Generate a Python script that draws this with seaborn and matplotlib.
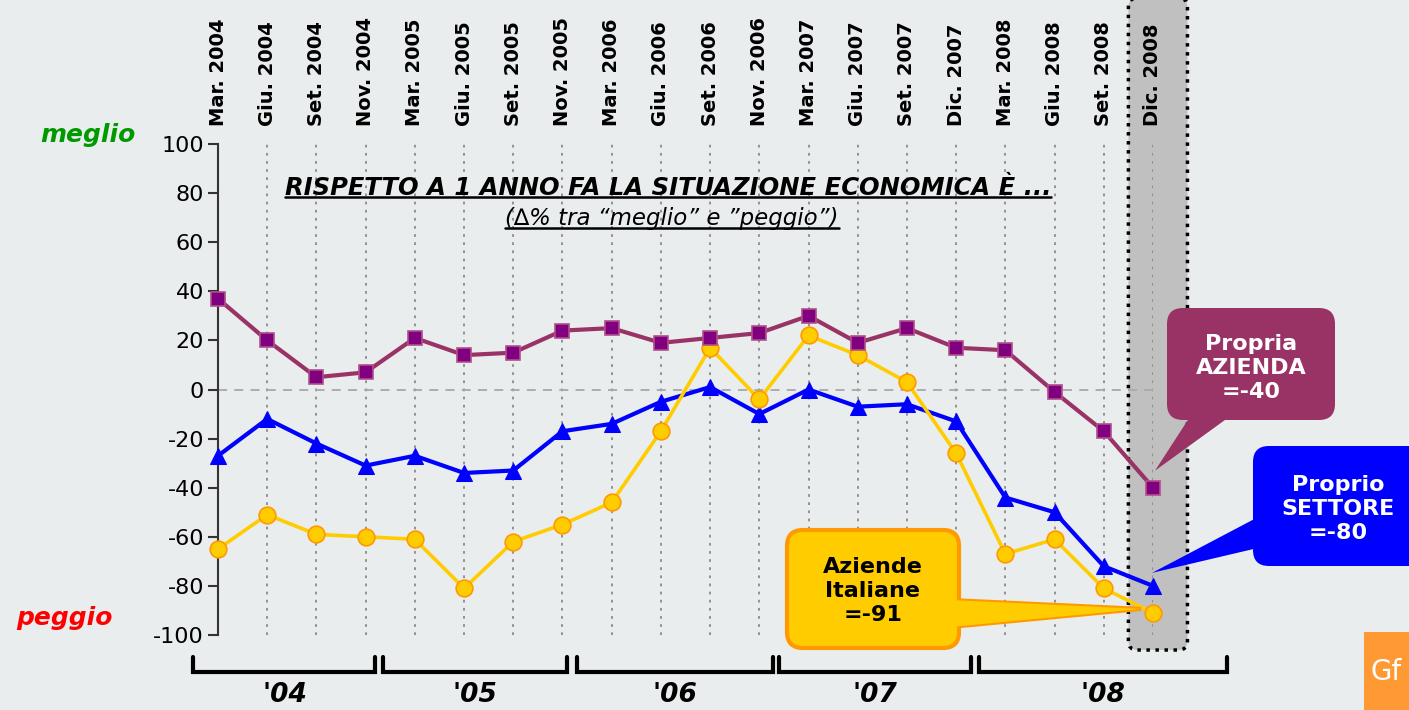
import numpy as np
import pandas as pd
import matplotlib
matplotlib.use('Agg')
import matplotlib.pyplot as plt
import seaborn as sns
from matplotlib.patches import FancyBboxPatch, Polygon, Rectangle
from matplotlib.lines import Line2D
from matplotlib.transforms import IdentityTransform, blended_transform_factory

# ── DATA ─────────────────────────────────────────────────────
periods = ["Mar. 2004", "Giu. 2004", "Set. 2004", "Nov. 2004",
           "Mar. 2005", "Giu. 2005", "Set. 2005", "Nov. 2005",
           "Mar. 2006", "Giu. 2006", "Set. 2006", "Nov. 2006",
           "Mar. 2007", "Giu. 2007", "Set. 2007", "Dic. 2007",
           "Mar. 2008", "Giu. 2008", "Set. 2008", "Dic. 2008"]
propria_azienda = [37, 20, 5, 7, 21, 14, 15, 24, 25, 19,
                   21, 23, 30, 19, 25, 17, 16, -1, -17, -40]
proprio_settore = [-27, -12, -22, -31, -27, -34, -33, -17, -14, -5,
                   1, -10, 0, -7, -6, -13, -44, -50, -72, -80]
aziende_italiane = [-65, -51, -59, -60, -61, -81, -62, -55, -46, -17,
                    17, -4, 22, 14, 3, -26, -67, -61, -81, -91]
years = ["'04", "'05", "'06", "'07", "'08"]
yticks = list(range(-100, 101, 20))

# bracket extents under the axis (in x index units)
year_spans = [(-0.5, 3.2), (3.35, 7.1), (7.3, 11.28), (11.4, 15.3), (15.47, 20.5)]

W, H = 1409, 710
BG = "#E9EDEE"

sns.set_theme(style="white")
plt.rcParams['font.family'] = ['DejaVu Sans']
plt.rcParams['axes.unicode_minus'] = False
plt.rcParams['text.color'] = 'black'

fig = plt.figure(figsize=(W / 100, H / 100), dpi=100, facecolor=BG)
ax = fig.add_axes([218 / W, 1 - 635 / H, (1153 - 218) / W, 491 / H])
ax.set_facecolor("none")

x = np.arange(len(periods))
series = [
    ("Proprio Settore", proprio_settore, dict(color="#0000FF", marker="^", markersize=11,
        markerfacecolor="#0000FF", markeredgecolor="#0000FF", linewidth=3)),
    ("Aziende Italiane", aziende_italiane, dict(color="#FFCC00", marker="o", markersize=12,
        markerfacecolor="#FFCC00", markeredgecolor="#FF9900", markeredgewidth=1.2, linewidth=2.6)),
    ("Propria Azienda", propria_azienda, dict(color="#993366", marker="s", markersize=10,
        markerfacecolor="#800080", markeredgecolor="#B0508A", markeredgewidth=1.2, linewidth=3)),
]
for name, vals, st in series:
    df = pd.DataFrame({"x": x, "y": vals})
    sns.lineplot(data=df, x="x", y="y", ax=ax, clip_on=False, zorder=3, **st)

ax.axhline(0, color="#A8A8A8", ls=(0, (5, 4)), lw=1.3, zorder=1)
ax.set_xlim(0, len(periods) - 1)
ax.set_ylim(-100, 100)
ax.set_yticks(yticks)
ax.set_xticks(x)
ax.set_xticklabels(periods, rotation=90, fontweight="bold", fontsize=14, color="black")
ax.xaxis.tick_top()
ax.tick_params(axis="x", length=0, pad=13)
ax.tick_params(axis="y", left=True, direction="out", length=7, width=1.5,
               pad=3, labelsize=16, color="#333333", labelcolor="black")
ax.grid(axis="x", ls=(0, (1.5, 3)), color="#8A8A8A", lw=1.3)
ax.set_xlabel(""); ax.set_ylabel("")
for s in ["top", "right", "bottom"]:
    ax.spines[s].set_visible(False)
ax.spines["left"].set_color("#333333")
ax.spines["left"].set_linewidth(1.5)


def P(px, py):
    """top-left pixel -> display pixel"""
    return (px, H - py)


def data_px(xi, yv):
    dx, dy = ax.transData.transform((xi, yv))
    return dx, H - dy


ident = IdentityTransform()

# highlighted last period band
bx0 = data_px(18.5, 0)[0]
bx1 = data_px(19.7, 0)[0]
band = FancyBboxPatch(P(bx0, 650), bx1 - bx0, 652, boxstyle="round,pad=0,rounding_size=9",
                      transform=ident, facecolor="#C0C0C0", edgecolor="black",
                      lw=2.5, ls=(0, (1, 1.6)), zorder=-1)
fig.patches.append(band)

# meglio / peggio
fig.text(88 / W, 1 - 135 / H, "meglio", color="#009900", fontsize=18, fontweight="bold",
         fontstyle="italic", ha="center", va="center")
fig.text(64 / W, 1 - 618 / H, "peggio", color="#FF0000", fontsize=18, fontweight="bold",
         fontstyle="italic", ha="center", va="center")

# titles
t1 = fig.text(668 / W, 1 - 188 / H, "RISPETTO A 1 ANNO FA LA SITUAZIONE ECONOMICA È ...",
              fontsize=17.5, fontweight="bold", fontstyle="italic", ha="center", va="center",
              color="black")
t2 = fig.text(672 / W, 1 - 219 / H, "(∆% tra “meglio” e ”peggio”)",
              fontsize=16.5, fontstyle="italic", ha="center", va="center", color="black")

# year brackets
bt = blended_transform_factory(ax.transData, fig.transFigure)
for (a, b), lab in zip(year_spans, years):
    ytop, ybot = 1 - 657 / H, 1 - 672 / H
    fig.add_artist(Line2D([a, a, b, b], [ytop, ybot, ybot, ytop], transform=bt,
                          color="black", lw=3, solid_joinstyle="miter"))
    fig.text((a + b) / 2, 1 - 695 / H, lab, transform=bt, fontsize=19, color="black",
             fontweight="bold", fontstyle="italic", ha="center", va="center")


def callout(x0, y0, x1, y1, base, tip, face, edge, text, tcolor, cx, cy):
    if edge is not None:
        fig.patches.append(Polygon([P(*base[0]), P(*tip), P(*base[1])], closed=True,
                                   transform=ident, facecolor=face, edgecolor=edge,
                                   lw=3, zorder=5))
    box = FancyBboxPatch(P(x0, y1), x1 - x0, y1 - y0, boxstyle="round,pad=0,rounding_size=16",
                         transform=ident, facecolor=face,
                         edgecolor=edge if edge else face, lw=3 if edge else 0, zorder=6)
    fig.patches.append(box)
    fig.patches.append(Polygon([P(*base[0]), P(*tip), P(*base[1])], closed=True,
                               transform=ident, facecolor=face, edgecolor="none", zorder=7))
    fig.text(cx / W, 1 - cy / H, text, color=tcolor, fontsize=16, fontweight="bold",
             ha="center", va="center", linespacing=1.25, zorder=8)


last = len(periods) - 1
tx, ty = data_px(last, propria_azienda[-1])
callout(1167, 308, 1335, 420, [(1193, 412), (1236, 412)], (tx + 2, ty - 17),
        "#993366", None, f"Propria\nAZIENDA\n={propria_azienda[-1]}", "white", 1251, 368)
tx, ty = data_px(last, proprio_settore[-1])
callout(1253, 446, 1425, 566, [(1262, 515), (1262, 547)], (tx - 1, ty - 13),
        "#0000FF", None, f"Proprio\nSETTORE\n={proprio_settore[-1]}", "white", 1338, 509)
tx, ty = data_px(last, aziende_italiane[-1])
callout(787, 530, 959, 648, [(950, 600), (950, 627)], (tx - 12, ty - 4),
        "#FFCC00", "#FF9900", f"Aziende\nItaliane\n={aziende_italiane[-1]}", "black", 873, 591)

# logo corner
fig.patches.append(Rectangle(P(1364, 710), 60, 78, transform=ident,
                             facecolor="#FF9933", edgecolor="none", zorder=5))
fig.text(1370 / W, 1 - 672 / H, "Gf", color="white", fontsize=20, ha="left",
         va="center", zorder=6)

# underline the titles
fig.canvas.draw()
r = fig.canvas.get_renderer()
for t, off in [(t1, 3), (t2, 3)]:
    bb = t.get_window_extent(r)
    fig.add_artist(Line2D([bb.x0, bb.x1], [bb.y0 + off, bb.y0 + off], transform=ident,
                          color="black", lw=1.8))

plt.savefig("out.png", dpi=100, facecolor=BG)
plt.close()
